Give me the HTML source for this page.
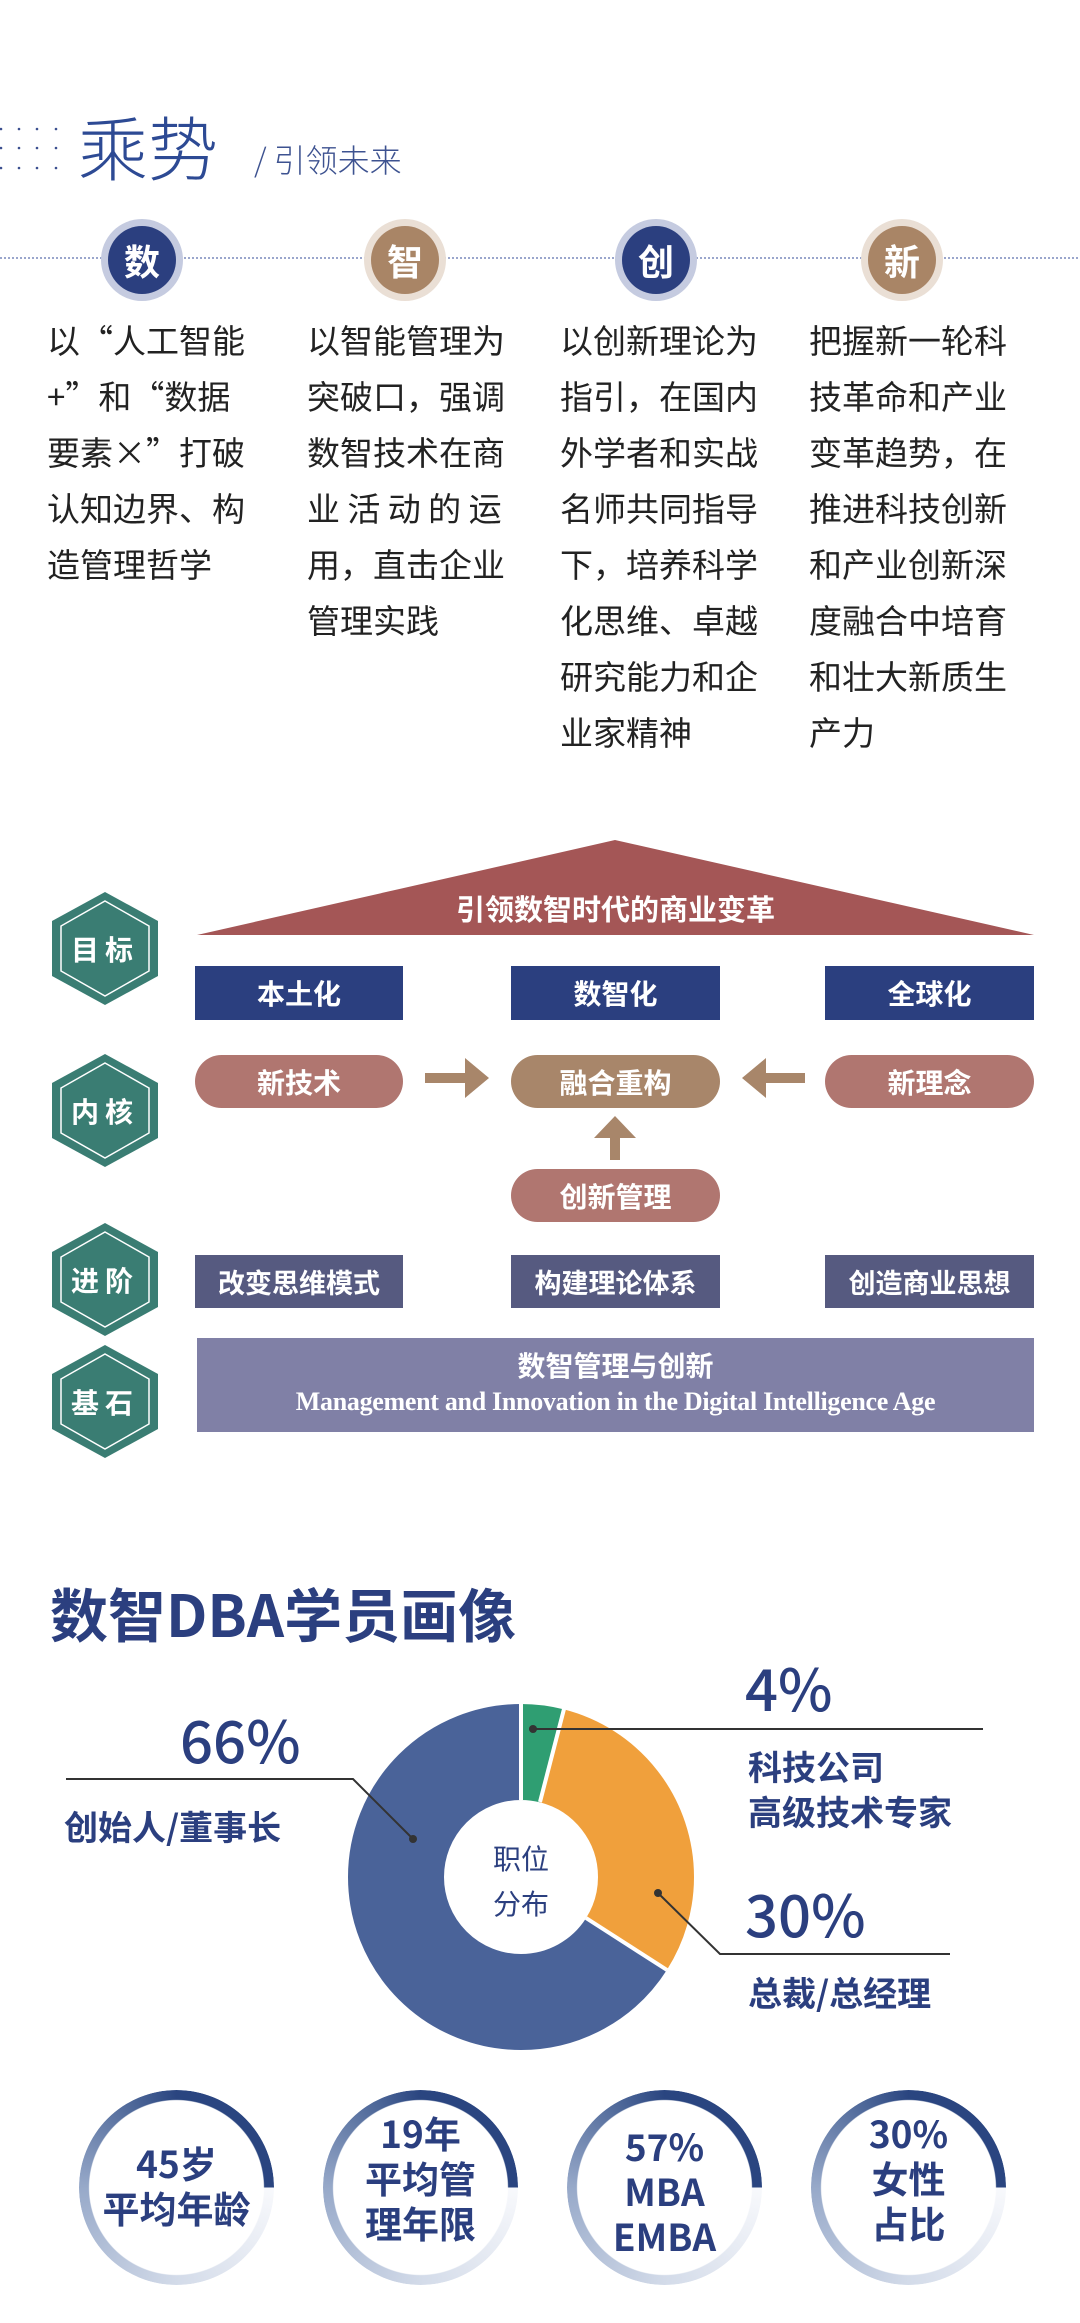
<!DOCTYPE html>
<html><head><meta charset="utf-8"><style>
*{margin:0;padding:0;box-sizing:border-box}
body{width:1080px;height:2323px;background:#fff;position:relative;overflow:hidden;font-family:"Liberation Sans","Noto Sans CJK SC",sans-serif}
.a{position:absolute}
.n{font-family:"Noto Sans CJK SC",sans-serif}
.c{display:flex;align-items:center;justify-content:center;color:#fff;font-weight:bold}
.col{position:absolute;top:311px;width:206px;font-size:33px;line-height:56px;color:#222;text-align:justify;font-family:"Noto Sans CJK SC",sans-serif}
.hex{position:absolute;left:52px;width:106px;height:113px}
.hex span{position:absolute;left:0;top:0;width:106px;height:113px;display:flex;align-items:center;justify-content:center;color:#fff;font-size:28px;font-weight:bold;letter-spacing:6px}
.ring{position:absolute;width:195px;height:195px;border-radius:50%;background:conic-gradient(#2a4580 0deg 90deg,#f8f9fc 90deg,#d3dbe9 180deg,#97a9c9 270deg,#4a6496 335deg,#2a4580 360deg);-webkit-mask:radial-gradient(circle,transparent 87px,#000 88px);mask:radial-gradient(circle,transparent 87px,#000 88px)}
.rt{position:absolute;width:195px;text-align:center;color:#2b3f7f;font-weight:bold;font-size:37px;line-height:45px;font-family:"Noto Sans CJK SC",sans-serif}
.lbl{position:absolute;color:#2b3f7f;font-weight:bold;font-family:"Noto Sans CJK SC",sans-serif}
</style></head><body>
<svg class="a" style="left:0;top:0" width="1080" height="400">
<g fill="#3b4f8f">
<circle cx="1" cy="129" r="1.3"/><circle cx="19" cy="129" r="1.3"/><circle cx="37" cy="129" r="1.3"/><circle cx="56" cy="129" r="1.3"/>
<circle cx="1" cy="148" r="1.3"/><circle cx="19" cy="148" r="1.3"/><circle cx="37" cy="148" r="1.3"/><circle cx="56" cy="148" r="1.3"/>
<circle cx="1" cy="168" r="1.3"/><circle cx="19" cy="168" r="1.3"/><circle cx="37" cy="168" r="1.3"/><circle cx="56" cy="168" r="1.3"/>
</g>
<line x1="0" y1="258" x2="1080" y2="258" stroke="#9aa6cc" stroke-width="2" stroke-dasharray="2 2"/>
<circle cx="142" cy="260" r="41" fill="#c5cbe0"/><circle cx="142" cy="260" r="34" fill="#2b3f7f"/>
<circle cx="405" cy="260" r="41" fill="#eadfd5"/><circle cx="405" cy="260" r="34" fill="#a98566"/>
<circle cx="656" cy="260" r="41" fill="#c5cbe0"/><circle cx="656" cy="260" r="34" fill="#2b3f7f"/>
<circle cx="902" cy="260" r="41" fill="#eadfd5"/><circle cx="902" cy="260" r="34" fill="#a98566"/>
</svg>
<div class="a" style="left:78px;top:104px;font-size:70px;line-height:84px;font-weight:200;color:#2d4a94;font-family:'Noto Sans CJK SC',sans-serif">乘势</div>
<div class="a" style="left:254px;top:138px;font-size:32px;line-height:42px;font-weight:300;color:#3d5290;font-family:'Noto Sans CJK SC',sans-serif">/ 引领未来</div>
<div class="a c" style="left:101px;top:220px;width:82px;height:80px;font-size:36px">数</div>
<div class="a c" style="left:364px;top:220px;width:82px;height:80px;font-size:36px">智</div>
<div class="a c" style="left:615px;top:220px;width:82px;height:80px;font-size:36px">创</div>
<div class="a c" style="left:861px;top:220px;width:82px;height:80px;font-size:36px">新</div>
<div class="col" style="left:47px">以“人工智能<br>+”和“数据<br>要素×”打破<br>认知边界、构<br>造管理哲学</div>
<div class="col" style="left:307px">以智能管理为<br>突破口，强调<br>数智技术在商<br>业&nbsp;活&nbsp;动&nbsp;的&nbsp;运<br>用，直击企业<br>管理实践</div>
<div class="col" style="left:560px">以创新理论为<br>指引，在国内<br>外学者和实战<br>名师共同指导<br>下，培养科学<br>化思维、卓越<br>研究能力和企<br>业家精神</div>
<div class="col" style="left:809px">把握新一轮科<br>技革命和产业<br>变革趋势，在<br>推进科技创新<br>和产业创新深<br>度融合中培育<br>和壮大新质生<br>产力</div>

<svg class="a" style="left:0;top:0" width="1080" height="1500">
<polygon points="615,840 1034,935 197,935" fill="#a45656"/>
<polygon points="425,1073 465,1073 465,1058 489,1078 465,1098 465,1083 425,1083" fill="#a8866a"/>
<polygon points="805,1073 766,1073 766,1058 742,1078 766,1098 766,1083 805,1083" fill="#a8866a"/>
<polygon points="615,1116 636,1138 620,1138 620,1160 610,1160 610,1138 594,1138" fill="#a8866a"/>
</svg>
<div class="a c" style="left:197px;top:888px;width:837px;height:40px;font-size:29px">引领数智时代的商业变革</div>
<div class="hex" style="top:892px"><svg width="106" height="113"><polygon points="53,0 106,29 106,84 53,113 0,84 0,29" fill="#3a7d73"/><polygon points="53,9 97,34 97,79 53,104 9,79 9,34" fill="none" stroke="#fff" stroke-width="1.5"/></svg><span>目标</span></div>
<div class="hex" style="top:1054px"><svg width="106" height="113"><polygon points="53,0 106,29 106,84 53,113 0,84 0,29" fill="#3a7d73"/><polygon points="53,9 97,34 97,79 53,104 9,79 9,34" fill="none" stroke="#fff" stroke-width="1.5"/></svg><span>内核</span></div>
<div class="hex" style="top:1223px"><svg width="106" height="113"><polygon points="53,0 106,29 106,84 53,113 0,84 0,29" fill="#3a7d73"/><polygon points="53,9 97,34 97,79 53,104 9,79 9,34" fill="none" stroke="#fff" stroke-width="1.5"/></svg><span>进阶</span></div>
<div class="hex" style="top:1345px"><svg width="106" height="113"><polygon points="53,0 106,29 106,84 53,113 0,84 0,29" fill="#3a7d73"/><polygon points="53,9 97,34 97,79 53,104 9,79 9,34" fill="none" stroke="#fff" stroke-width="1.5"/></svg><span>基石</span></div>

<div class="a c" style="left:195px;top:966px;width:208px;height:54px;background:#2b3f7f;font-size:28px">本土化</div>
<div class="a c" style="left:511px;top:966px;width:209px;height:54px;background:#2b3f7f;font-size:28px">数智化</div>
<div class="a c" style="left:825px;top:966px;width:209px;height:54px;background:#2b3f7f;font-size:28px">全球化</div>
<div class="a c" style="left:195px;top:1055px;width:208px;height:53px;background:#b07670;border-radius:27px;font-size:28px">新技术</div>
<div class="a c" style="left:511px;top:1055px;width:209px;height:53px;background:#a8866a;border-radius:27px;font-size:28px">融合重构</div>
<div class="a c" style="left:825px;top:1055px;width:209px;height:53px;background:#b07670;border-radius:27px;font-size:28px">新理念</div>
<div class="a c" style="left:511px;top:1169px;width:209px;height:53px;background:#b07670;border-radius:27px;font-size:28px">创新管理</div>
<div class="a c" style="left:195px;top:1255px;width:208px;height:53px;background:#565a80;font-size:27px">改变思维模式</div>
<div class="a c" style="left:511px;top:1255px;width:209px;height:53px;background:#565a80;font-size:27px">构建理论体系</div>
<div class="a c" style="left:825px;top:1255px;width:209px;height:53px;background:#565a80;font-size:27px">创造商业思想</div>
<div class="a" style="left:197px;top:1338px;width:837px;height:94px;background:#8080a6"></div>
<div class="a c" style="left:197px;top:1346px;width:837px;height:38px;font-size:28px">数智管理与创新</div>
<div class="a c" style="left:197px;top:1385px;width:837px;height:34px;font-size:26px;font-family:'Liberation Serif',serif;letter-spacing:-0.3px">Management and Innovation in the Digital Intelligence Age</div>

<div class="a n" style="left:50px;top:1574px;font-size:58px;line-height:76px;font-weight:bold;color:#2b3f7f">数智DBA学员画像</div>
<svg class="a" style="left:0;top:0" width="1080" height="2323">
<g transform="rotate(-90 521 1877)" fill="none" stroke-width="96">
<circle cx="521" cy="1877" r="125" stroke="#2f9e72" stroke-dasharray="31.4 754"/>
<circle cx="521" cy="1877" r="125" stroke="#f0a03c" stroke-dasharray="0 31.4 235.6 600"/>
<circle cx="521" cy="1877" r="125" stroke="#4a6399" stroke-dasharray="0 267 518.4 10"/>
</g>
<g stroke="#fff" stroke-width="4">
<line x1="521" y1="1800" x2="521" y2="1700"/>
<line x1="540" y1="1802" x2="564" y2="1709"/>
<line x1="586" y1="1918" x2="667" y2="1970"/>
</g>
<g stroke="#333" stroke-width="2" fill="none">
<polyline points="66,1779 353,1779 413,1839"/>
<polyline points="533,1729 983,1729"/>
<polyline points="658,1893 720,1954 950,1954"/>
</g>
<g fill="#333"><circle cx="413" cy="1839" r="4"/><circle cx="533" cy="1729" r="4"/><circle cx="658" cy="1893" r="4"/></g>
</svg>
<div class="a n" style="left:471px;top:1836px;width:100px;text-align:center;font-size:28px;line-height:45px;color:#2b3f7f">职位<br>分布</div>
<div class="lbl" style="left:180px;top:1700px;font-size:58px;line-height:76px;font-weight:500">66%</div>
<div class="lbl" style="left:64px;top:1802px;font-size:34px;line-height:48px">创始人/董事长</div>
<div class="lbl" style="left:745px;top:1648px;font-size:58px;line-height:76px;font-weight:500">4%</div>
<div class="lbl" style="left:748px;top:1743px;font-size:34px;line-height:45px">科技公司<br>高级技术专家</div>
<div class="lbl" style="left:745px;top:1874px;font-size:58px;line-height:76px;font-weight:500">30%</div>
<div class="lbl" style="left:748px;top:1968px;font-size:34px;line-height:48px">总裁/总经理</div>

<div class="ring" style="left:79px;top:2090px"></div>
<div class="ring" style="left:323px;top:2090px"></div>
<div class="ring" style="left:567px;top:2090px"></div>
<div class="ring" style="left:811px;top:2090px"></div>
<div class="rt" style="left:79px;top:2140px">45岁<br>平均年龄</div>
<div class="rt" style="left:323px;top:2110px">19年<br>平均管<br>理年限</div>
<div class="rt" style="left:567px;top:2123px">57%<br>MBA<br>EMBA</div>
<div class="rt" style="left:811px;top:2110px">30%<br>女性<br>占比</div>
</body></html>
